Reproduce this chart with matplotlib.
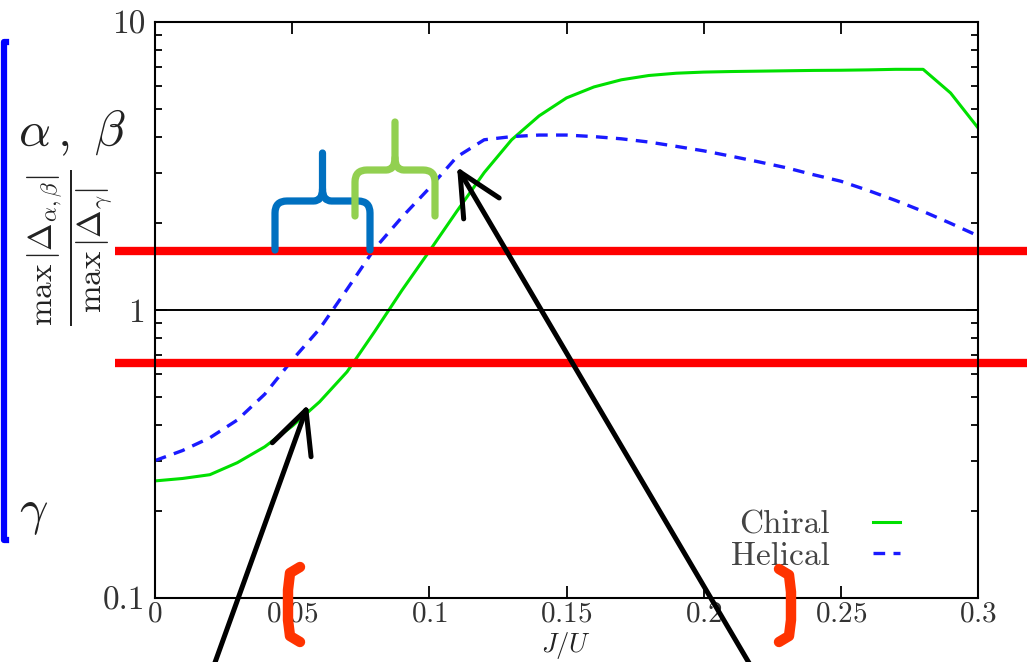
import numpy as np
import matplotlib
matplotlib.use("Agg")
import matplotlib.pyplot as plt
import matplotlib.transforms as mtransforms
from matplotlib.path import Path
from matplotlib.patches import PathPatch
from matplotlib.ticker import FixedLocator, NullFormatter

plt.rcParams["font.family"] = "cmr10"
plt.rcParams["mathtext.fontset"] = "cm"
plt.rcParams["axes.formatter.use_mathtext"] = True

# data
ratio_J = [0.00, 0.01, 0.02, 0.03, 0.04, 0.05, 0.06, 0.07, 0.08, 0.09, 0.10,
           0.11, 0.12, 0.13, 0.14, 0.15, 0.16, 0.17, 0.18, 0.19, 0.20,
           0.21, 0.22, 0.23, 0.24, 0.25, 0.26, 0.27, 0.28, 0.29, 0.30]
chiral = [0.255, 0.26, 0.268, 0.295, 0.335, 0.395, 0.48, 0.61, 0.84, 1.17, 1.6,
          2.2, 3.0, 3.9, 4.72, 5.45, 5.95, 6.3, 6.52, 6.64, 6.7,
          6.73, 6.75, 6.77, 6.79, 6.8, 6.82, 6.85, 6.85, 5.67, 4.29]
helical = [0.30, 0.325, 0.36, 0.415, 0.51, 0.67, 0.86, 1.18, 1.63, 2.1, 2.65,
           3.4, 3.9, 4.0, 4.05, 4.05, 4.0, 3.93, 3.83, 3.7, 3.57,
           3.42, 3.27, 3.12, 2.95, 2.8, 2.6, 2.4, 2.2, 2.0, 1.81]
x_ticks = [0, 0.05, 0.1, 0.15, 0.2, 0.25, 0.3]
x_labels = ["0", "0.05", "0.1", "0.15", "0.2", "0.25", "0.3"]
y_ticks = [0.1, 1, 10]
y_labels = ["0.1", "1", "10"]
red_levels = [1.6, 0.655]

W, H = 1027, 662
fig = plt.figure(figsize=(W / 100, H / 100), dpi=100)
ax = fig.add_axes([155 / W, 1 - 598 / H, 823 / W, 576 / H])

# pixel coordinates of the reference image (y downwards)
px = mtransforms.Affine2D().scale(1 / W, -1 / H).translate(0, 1) + fig.transFigure

ax.plot(ratio_J, chiral, color="#00e000", lw=2.2, label="Chiral")
ax.plot(ratio_J, helical, color="#1a1aff", lw=2.4, dashes=(3.5, 2.5), label="Helical")
ax.axhline(1, color="black", lw=1.4)

ax.set_yscale("log")
ax.set_xlim(0, 0.3)
ax.set_ylim(0.1, 10)
ax.set_xticks(x_ticks)
ax.set_xticklabels([f"${s}$" for s in x_labels])
ax.yaxis.set_major_locator(FixedLocator(y_ticks))
ax.set_yticklabels(y_labels)
minor = [m * d for d in (0.1, 1) for m in range(2, 10)]
ax.yaxis.set_minor_locator(FixedLocator(minor))
ax.yaxis.set_minor_formatter(NullFormatter())
ax.tick_params(which="both", direction="in", top=True, right=True,
               labelsize=24, labelcolor="#333333", width=1.3)
ax.tick_params(axis="x", which="major", labelsize=21, pad=2)
ax.tick_params(which="major", length=8.5)
ax.tick_params(axis="y", which="major", pad=7)
ax.tick_params(which="minor", length=5)
for s in ax.spines.values():
    s.set_linewidth(1.5)

leg = ax.legend(loc="lower right", bbox_to_anchor=(0.925, 0.018), frameon=False,
                markerfirst=False, fontsize=24, handlelength=0.8,
                handletextpad=1.3, labelspacing=0.05, borderpad=0)
for t in leg.get_texts():
    t.set_color("#444444")

# axis labels
fig.text(566, 661, r"$J/U$", transform=px, ha="center", va="bottom",
         fontsize=19, color="#222222")
fig.text(72, 133, r"$\alpha\,,\ \beta$", transform=px, ha="center", va="center",
         fontsize=36, color="#222222")
fig.text(34, 514, r"$\gamma$", transform=px, ha="center", va="center",
         fontsize=36, color="#222222")
fig.text(70, 248, r"$\frac{\max\,|\Delta_{\alpha,\beta}|}{\max\,|\Delta_{\gamma}|}$",
         transform=px, ha="center", va="center", rotation=90,
         fontsize=34, color="#222222")

# red horizontal markers across the plot
blend = mtransforms.blended_transform_factory(fig.transFigure, ax.transData)
for lvl in red_levels:
    ax.plot([115 / W, 1.0], [lvl, lvl], transform=blend, clip_on=False,
            color="#ff0000", lw=6, solid_capstyle="butt")

# blue bracket on the far left
fig.add_artist(plt.Line2D([6, 4, 4, 6], [42, 42, 540, 540], transform=px,
                          color="#0000ff", lw=4.5, solid_joinstyle="round"))


def brace(xl, xr, yb, yh, yp, color):
    xm = (xl + xr) / 2
    r = 12
    M, L, C = Path.MOVETO, Path.LINETO, Path.CURVE3
    left = Path([(xl, yb), (xl, yh + r), (xl, yh), (xl + r, yh), (xm - 9, yh),
                 (xm, yh), (xm, yh - 12), (xm, yp)],
                [M, L, C, C, L, C, C, L])
    right = Path([(xm, yh - 12), (xm, yh), (xm + 9, yh), (xr - r, yh),
                  (xr, yh), (xr, yh + r), (xr, yb)],
                 [M, C, C, L, C, C, L])
    for p in (left, right):
        fig.add_artist(PathPatch(p, transform=px, fill=False, edgecolor=color,
                                 lw=5.2, capstyle="round", joinstyle="round"))


brace(275, 370, 250, 201, 153, "#0070c0")
brace(355, 435, 216, 170, 122, "#92d050")


def arrow(tail, tip, color="black"):
    fig.add_artist(plt.Line2D([tail[0], tip[0]], [tail[1], tip[1]], transform=px,
                              color=color, lw=3.6, solid_capstyle="round"))
    vx, vy = tail[0] - tip[0], tail[1] - tip[1]
    n = np.hypot(vx, vy)
    vx, vy = vx / n, vy / n
    for a in (np.radians(26), -np.radians(26)):
        bx = vx * np.cos(a) - vy * np.sin(a)
        by = vx * np.sin(a) + vy * np.cos(a)
        fig.add_artist(plt.Line2D([tip[0], tip[0] + 47 * bx],
                                  [tip[1], tip[1] + 47 * by], transform=px,
                                  color=color, lw=3.6, solid_capstyle="round"))


arrow((213, 668), (306, 410))
arrow((752, 668), (460, 172))

# orange-red brackets near the x axis
fig.add_artist(plt.Line2D([300, 290, 288, 288, 290, 300],
                          [567, 573, 590, 620, 636, 642], transform=px,
                          color="#ff3300", lw=7.5, solid_joinstyle="round",
                          solid_capstyle="round"))
fig.add_artist(plt.Line2D([779, 789, 791, 791, 789, 779],
                          [569, 575, 592, 620, 636, 642], transform=px,
                          color="#ff3300", lw=7.5, solid_joinstyle="round",
                          solid_capstyle="round"))

fig.savefig("out.png", dpi=100)
